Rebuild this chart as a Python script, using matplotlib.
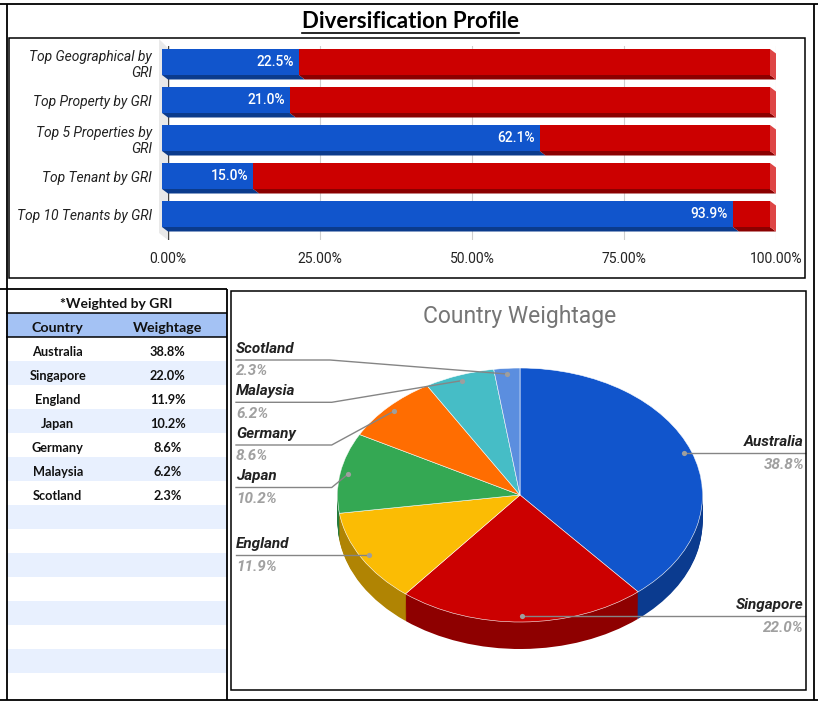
import matplotlib
matplotlib.use('Agg')
import matplotlib.pyplot as plt
from matplotlib.patches import Polygon, Rectangle
import numpy as np

# ---------------- data ----------------
bar_categories = ['Top Geographical by\nGRI', 'Top Property by GRI',
                  'Top 5 Properties by\nGRI', 'Top Tenant by GRI',
                  'Top 10 Tenants by GRI']
bar_values = [22.5, 21.0, 62.1, 15.0, 93.9]
bar_ticks = [0, 25, 50, 75, 100]
bar_tick_labels = ['0.00%', '25.00%', '50.00%', '75.00%', '100.00%']

countries = ['Australia', 'Singapore', 'England', 'Japan', 'Germany', 'Malaysia', 'Scotland']
weights = [38.8, 22.0, 11.9, 10.2, 8.6, 6.2, 2.3]
table_empty_rows = 8

# ---------------- style ----------------
W, H = 818, 705
BLUE, RED = '#1155CC', '#CC0000'
BLUE_D, RED_D, RED_SIDE = '#0B3B8C', '#8B0000', '#DE4545'
top_colors = ['#1155CC', '#CC0000', '#FBBC04', '#34A853', '#FF6D01', '#46BDC6', '#5B8EDF']
side_colors = ['#0B3B8F', '#8E0000', '#B08403', '#247A3B', '#B34C00', '#318489', '#3F63A0']

fig = plt.figure(figsize=(W / 100, H / 100), dpi=100)
fig.patch.set_facecolor('white')


def px(x0, y0, x1, y1):
    return [x0 / W, 1 - y1 / H, (x1 - x0) / W, (y1 - y0) / H]


# ---------------- bar chart ----------------
bx = fig.add_axes(px(168, 46, 776, 240))
bx.set_facecolor('none')
row0, step = 62, 38           # px centre of first bar, px between bars
ppu = 608 / 100               # px per percent
off = -6 / ppu                # front face shift
dx, dy = 6 / ppu, 4.5 / step  # depth
h = 26 / step
bx.set_xlim(0, 100)
bx.set_ylim((240 - row0) / step, (46 - row0) / step)

# left wall
wall = Polygon([(-9 / ppu, (39 - row0) / step), (0, (48 - row0) / step),
                (0, (240 - row0) / step), (-9 / ppu, (233 - row0) / step)],
               closed=True, facecolor='#e9e9e9', edgecolor='none', clip_on=False, zorder=0.5)
bx.add_patch(wall)
bx.axvline(0, color='#444444', lw=1.0, zorder=0.8)

for i, v in enumerate(bar_values):
    yt, yb = i - h / 2, i + h / 2
    for (x0, x1, cf, cd) in [(0, v, BLUE, BLUE_D), (v, 100, RED, RED_D)]:
        bx.add_patch(Polygon([(x0 + off, yb), (x1 + off, yb), (x1 + off + dx, yb + dy),
                              (x0 + off + dx, yb + dy)], closed=True, facecolor=cd,
                             edgecolor='none', clip_on=False, zorder=2))
    bx.add_patch(Polygon([(100 + off, yt), (100 + off + dx, yt + dy), (100 + off + dx, yb + dy),
                          (100 + off, yb)], closed=True, facecolor=RED_SIDE,
                         edgecolor='none', clip_on=False, zorder=2))
    bx.barh(i, v, left=off, height=h, color=BLUE, lw=0, zorder=3, clip_on=False)
    bx.barh(i, 100 - v, left=v + off, height=h, color=RED, lw=0, zorder=3, clip_on=False)
    bx.text(v + off - 5 / ppu, i, f'{v:.1f}%', ha='right', va='center', color='white',
            fontsize=10, family='Roboto', fontweight='medium', zorder=4)

bx.set_xticks(bar_ticks)
bx.set_xticklabels(bar_tick_labels, family='Roboto', fontsize=10, color='#222222')
bx.set_yticks(range(len(bar_categories)))
bx.set_yticklabels(bar_categories, family='Roboto', fontstyle='italic', fontsize=10,
                   color='#222222', linespacing=1.25)
bx.tick_params(axis='x', length=0, pad=8.5)
bx.tick_params(axis='y', length=0, pad=11.5)
bx.grid(axis='x', color='#cfcfcf', lw=0.8, zorder=0)
bx.set_axisbelow(True)
for s in bx.spines.values():
    s.set_visible(False)

# ---------------- table ----------------
tx = fig.add_axes(px(6, 289, 227, 697))
tx.set_facecolor('none')
n_rows = len(countries) + table_empty_rows
tx.set_xlim(6, 227)
tx.set_ylim(n_rows - 0.5, -2.5)
tx.axis('off')
for r in range(n_rows):
    tx.barh(r, 221, left=6, height=1, color='#FFFFFF' if r % 2 == 0 else '#E8F0FE', lw=0)
tx.barh(-1, 221, left=6, height=1, color='#A4C2F4', lw=0)
tx.axhline(-1.5, color='black', lw=1.1)
tx.axhline(-0.5, color='black', lw=1.1)
tfont = dict(family='Lato', fontweight='bold', color='#111111', ha='center', va='center')
col_x = [57.7, 167.7]
ty = 0.12  # visual centring of text in its row
tx.text(116.5, -2 + ty, '*Weighted by GRI', fontsize=10, **tfont)
tx.text(col_x[0], -1 + ty, 'Country', fontsize=10.3, **tfont)
tx.text(col_x[1], -1 + ty, 'Weightage', fontsize=10.3, **tfont)
for r, (c, w) in enumerate(zip(countries, weights)):
    tx.text(col_x[0], r + ty, c, fontsize=9.2, **tfont)
    tx.text(col_x[1], r + ty, f'{w:.1f}%', fontsize=9.2, **tfont)

# ---------------- pie ----------------
pa = fig.add_axes(px(231, 291, 806, 690))
pa.set_facecolor('none')
cx, cy, a, b = 520.0, 495.0, 182.5, 127.0
depth = 27 / b
for t in np.linspace(depth, 0, 28, endpoint=False):
    pa.pie(weights, colors=side_colors, startangle=90, counterclock=False,
           center=(0, -t), radius=1, wedgeprops=dict(linewidth=0))
pa.pie(weights, colors=top_colors, startangle=90, counterclock=False,
       radius=1, wedgeprops=dict(edgecolor='white', linewidth=0.4))
pa.set_aspect('auto')
pa.set_xlim((231 - cx) / a, (806 - cx) / a)
pa.set_ylim((cy - 690) / b, (cy - 291) / b)
pa.axis('off')


def X(p):
    return (p - cx) / a


def Y(p):
    return (cy - p) / b


label_layout = {
    'Australia': ('right', None),
    'Singapore': ('right', None),
    'England': ('left', None),
    'Japan': ('left', (331.7, 487.5)),
    'Germany': ('left', (331.7, 445.0)),
    'Malaysia': ('left', (331.7, 402.3)),
    'Scotland': ('left', (330.0, 360.0)),
}
total = sum(weights)
cum = np.cumsum([0] + weights[:-1])
for c, w, s in zip(countries, weights, cum):
    phi = np.deg2rad(90 - (s + w / 2) / total * 360)
    dxp, dyp = 0.955 * np.cos(phi), 0.955 * np.sin(phi)
    side, kink = label_layout[c]
    xe = X(805) if side == 'right' else X(236)
    if kink is None:
        xs, ys = [dxp, xe], [dyp, dyp]
        ly = dyp
    else:
        xs, ys = [dxp, X(kink[0]), xe], [dyp, Y(kink[1]), Y(kink[1])]
        ly = Y(kink[1])
    pa.plot(xs, ys, color='#858585', lw=1.0, zorder=5, clip_on=False)
    pa.scatter([dxp], [dyp], s=14, color='#9E9E9E', zorder=6, linewidths=0)
    xt = X(804) if side == 'right' else X(236)
    ha = 'right' if side == 'right' else 'left'
    pa.text(xt, ly + 11 / b, c, ha=ha, va='center', family='Roboto', fontweight='bold',
            fontstyle='italic', fontsize=11, color='#222222')
    pa.text(xt, ly - 11.5 / b, f'{w:.1f}%', ha=ha, va='center', family='Roboto',
            fontweight='bold', fontstyle='italic', fontsize=11, color='#A0A0A0')

# ---------------- overlay frames & titles ----------------
ov = fig.add_axes([0, 0, 1, 1], zorder=10)
ov.set_facecolor('none')
ov.set_xlim(0, W)
ov.set_ylim(H, 0)
ov.axis('off')
lk = dict(color='black', lw=1.3, solid_capstyle='butt')
ov.plot([0, W], [4, 4], **lk)
ov.plot([0, W], [700, 700], **lk)
ov.plot([6.5, 6.5], [4, 700], **lk)
ov.plot([814, 814], [4, 700], **lk)
ov.plot([0, 227], [289.3, 289.3], **lk)
ov.plot([227, 227], [289.3, 700], **lk)
ov.add_patch(Rectangle((9, 38), 796, 240, fill=False, edgecolor='black', lw=1.1))
ov.add_patch(Rectangle((231, 291), 575, 399, fill=False, edgecolor='black', lw=1.1))

title = ov.text(410.5, 21, 'Diversification Profile', ha='center', va='center',
                family='Lato', fontweight='bold', fontsize=16, color='black')
ov.text(520, 317, 'Country Weightage', ha='center', va='center', family='Roboto',
        fontsize=16.5, color='#757575')
fig.canvas.draw()
bb = title.get_window_extent()
ov.plot([bb.x0, bb.x1], [32.5, 32.5], color='black', lw=1.2)

fig.savefig('out.png', dpi=100, facecolor='white')
